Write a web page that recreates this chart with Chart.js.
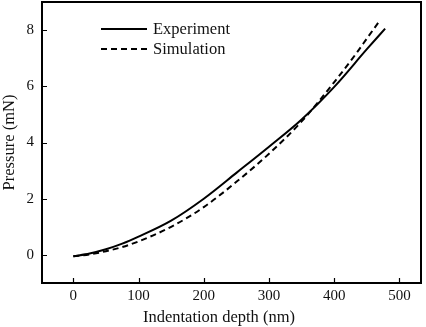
<!DOCTYPE html>
<html>
<head>
<meta charset="utf-8">
<script src="https://cdn.jsdelivr.net/npm/chart.js@4"></script>
<style>
  html, body { margin: 0; padding: 0; background: #fff; }
  #wrap { width: 426px; height: 327px; }
</style>
</head>
<body>
<div id="wrap"><canvas id="grafico" width="426" height="327"></canvas></div>
<script>
// datos
const depthExp = [0, 25, 50, 75, 100, 150, 200, 250, 300, 350, 400, 450, 478];
const presExp = [-0.05, 0.05, 0.2, 0.4, 0.65, 1.22, 2.0, 2.92, 3.85, 4.82, 5.98, 7.32, 8.05];
const depthSim = [0, 25, 50, 75, 100, 150, 200, 250, 300, 350, 400, 435, 450, 469];
const presSim = [-0.05, 0.02, 0.13, 0.28, 0.48, 1.0, 1.7, 2.6, 3.6, 4.75, 6.15, 7.21, 7.7, 8.31];
const xTicks = [0, 100, 200, 300, 400, 500];
const yTicks = [0, 2, 4, 6, 8];
const seriesNames = ["Experiment", "Simulation"];
const xTitle = "Indentation depth (nm)";
const yTitle = "Pressure (mN)";

const fuente = "'Liberation Serif', 'DejaVu Serif', serif";
const ctx = document.getElementById("grafico").getContext("2d");

function puntos(xs, ys) {
  return xs.map((x, i) => ({ x: x, y: ys[i] }));
}

// marco, marcas interiores, leyenda y titulo del eje x
const marco = {
  id: "marco",
  afterDraw(chart) {
    const c = chart.ctx;
    const a = chart.chartArea;
    const sx = chart.scales.x;
    const sy = chart.scales.y;
    c.save();
    c.strokeStyle = "#000";
    c.lineWidth = 2;
    c.strokeRect(a.left, a.top, a.right - a.left, a.bottom - a.top);
    c.lineWidth = 1.2;
    c.beginPath();
    xTicks.forEach(v => {
      const p = Math.round(sx.getPixelForValue(v)) + 0.5;
      c.moveTo(p, a.bottom);
      c.lineTo(p, a.bottom - 5);
    });
    yTicks.forEach(v => {
      const p = Math.round(sy.getPixelForValue(v)) + 0.5;
      c.moveTo(a.left, p);
      c.lineTo(a.left + 5, p);
    });
    c.stroke();

    // leyenda
    c.font = "16.5px " + fuente;
    c.fillStyle = "#111";
    c.textBaseline = "middle";
    const lx = a.left + 59;
    [29, 49].forEach((ly, i) => {
      c.lineWidth = 1.8;
      c.setLineDash(i === 0 ? [] : [6, 4]);
      c.beginPath();
      c.moveTo(lx, ly);
      c.lineTo(lx + 46, ly);
      c.stroke();
      c.setLineDash([]);
      c.fillText(seriesNames[i], lx + 52, ly + 1);
    });

    // titulo eje x
    c.textAlign = "center";
    c.fillText(xTitle, 219, 318);
    c.restore();
  }
};

const chart = new Chart(ctx, {
  type: "line",
  data: {
    datasets: [
      {
        label: seriesNames[0],
        data: puntos(depthExp, presExp),
        borderColor: "#000",
        borderWidth: 2,
        pointRadius: 0,
        cubicInterpolationMode: "monotone"
      },
      {
        label: seriesNames[1],
        data: puntos(depthSim, presSim),
        borderColor: "#000",
        borderWidth: 2,
        borderDash: [6, 4],
        pointRadius: 0,
        cubicInterpolationMode: "monotone"
      }
    ]
  },
  options: {
    responsive: false,
    animation: false,
    layout: { padding: { top: 2, right: 5, left: 0, bottom: 0 } },
    plugins: {
      legend: { display: false },
      tooltip: { enabled: false }
    },
    scales: {
      x: {
        type: "linear",
        min: -48,
        max: 533,
        afterBuildTicks: s => { s.ticks = xTicks.map(v => ({ value: v })); },
        afterFit: s => { s.height = 44; s.paddingLeft = 0; s.paddingRight = 0; },
        grid: { display: false, drawTicks: false },
        border: { display: false },
        ticks: { color: "#111", font: { family: fuente, size: 15 }, padding: 4 }
      },
      y: {
        min: -1,
        max: 9,
        afterBuildTicks: s => { s.ticks = yTicks.map(v => ({ value: v })); },
        afterFit: s => { s.width = 42; s.paddingTop = 0; s.paddingBottom = 0; },
        grid: { display: false, drawTicks: false },
        border: { display: false },
        ticks: { color: "#111", font: { family: fuente, size: 15 }, padding: 8 },
        title: {
          display: true,
          text: yTitle,
          color: "#111",
          font: { family: fuente, size: 16.5 },
          padding: { top: 0, bottom: 0 }
        }
      }
    }
  },
  plugins: [marco]
});
</script>
</body>
</html>
